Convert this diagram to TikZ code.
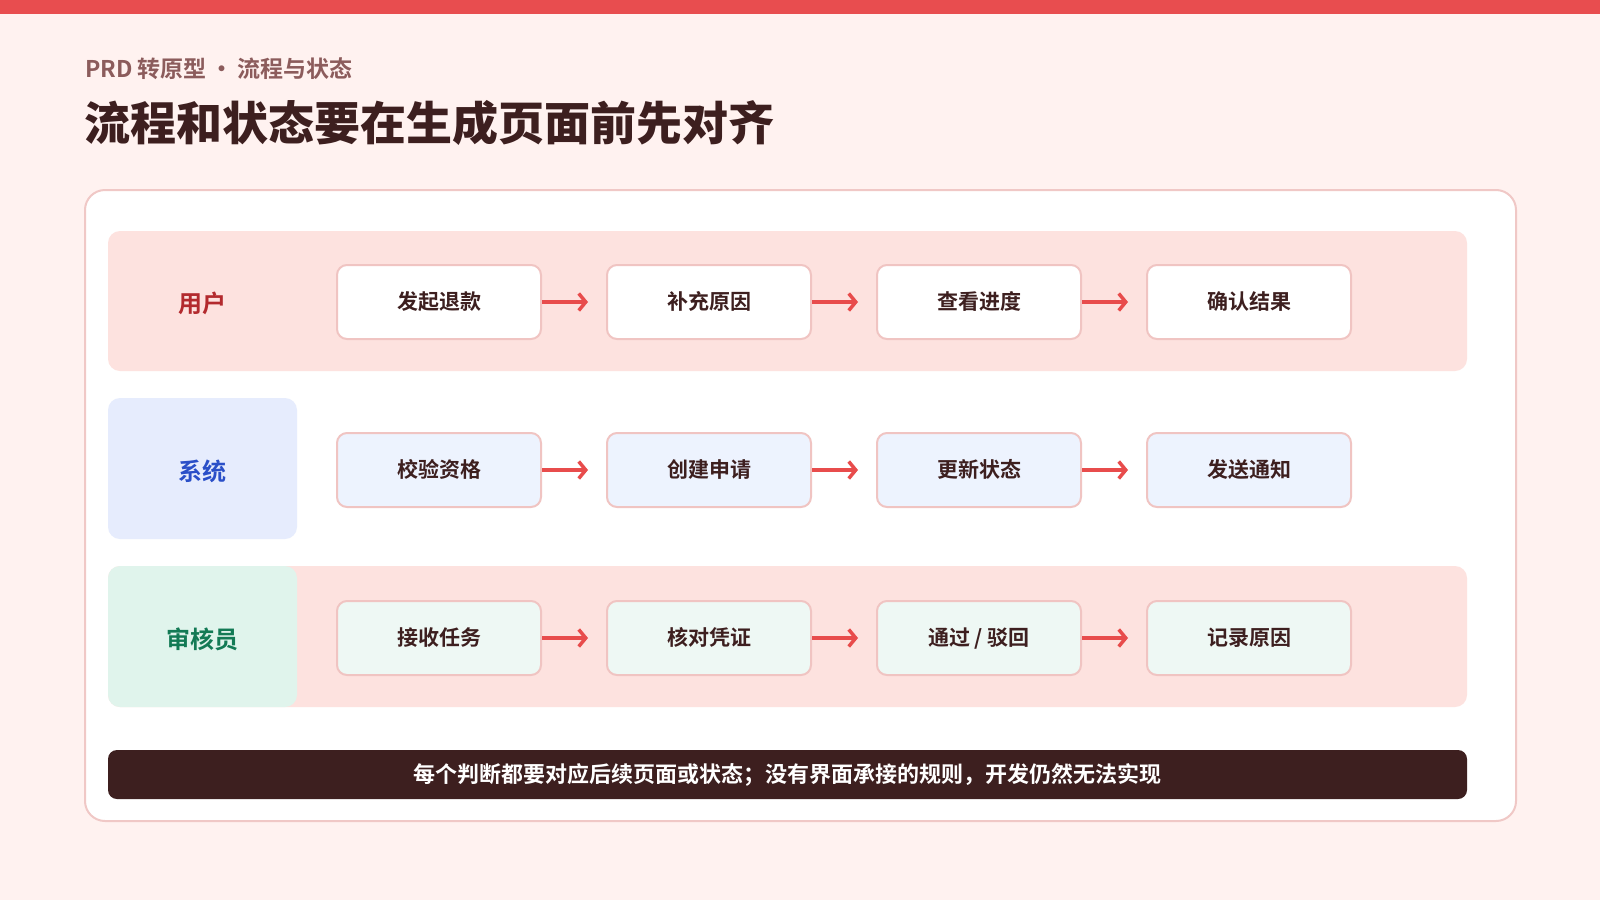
\documentclass[tikz,border=0pt]{standalone}
\usepackage{fontspec}
\setmainfont{Noto Sans CJK SC}[BoldFont={Noto Sans CJK SC Bold}]
\newfontfamily\heavyfont{Noto Sans CJK SC Black}
\usetikzlibrary{arrows.meta,positioning}
\definecolor{bg}{HTML}{FFF2F0}
\definecolor{topred}{HTML}{E84D4F}
\definecolor{subtitle}{HTML}{8C5C5C}
\definecolor{ink}{HTML}{3D1F1F}
\definecolor{cardline}{HTML}{F0C8C6}
\definecolor{lanepink}{HTML}{FDE2DF}
\definecolor{laneblue}{HTML}{E6ECFD}
\definecolor{lanegreen}{HTML}{E0F4EC}
\definecolor{stepblue}{HTML}{EDF3FE}
\definecolor{stepgreen}{HTML}{EEF8F4}
\definecolor{stepline}{HTML}{F0C4C2}
\definecolor{arrowred}{HTML}{E84C4C}
\definecolor{userred}{HTML}{B32A2E}
\definecolor{sysblue}{HTML}{2A4FC8}
\definecolor{revgreen}{HTML}{137A55}
\tikzset{
  stepbox/.style={draw=stepline, line width=2pt, rounded corners=10pt,
    minimum width=204pt, minimum height=74pt, inner sep=0pt,
    text height=1.68em, text depth=0.14em,
    text=ink, font=\bfseries\fontsize{21}{25}\selectfont},
  lanelabel/.style={font=\bfseries\fontsize{24}{28}\selectfont, inner sep=0pt},
  flow/.style={draw=arrowred, line width=3.5pt,
    -{Straight Barb[length=7pt,width=17pt]}, shorten >=18pt}
}
\begin{document}
\begin{tikzpicture}[x=1pt,y=-1pt]
\useasboundingbox (0,0) rectangle (1600,900);
\fill[bg] (0,0) rectangle (1600,900);
\fill[topred] (0,0) rectangle (1600,14);
\node[anchor=west, text=subtitle, font=\bfseries\fontsize{23}{27}\selectfont, inner sep=0pt] (sub) at (85,69) {PRD 转原型\hspace{4pt}•\hspace{4pt}流程与状态};
\node[anchor=west, text=ink, font=\heavyfont\fontsize{46}{52}\selectfont, inner sep=0pt] (title) at (84,123) {流程和状态要在生成页面前先对齐};
\draw[cardline, fill=white, line width=2pt, rounded corners=20pt] (85,190) rectangle (1516,821);
% lanes
\fill[lanepink, rounded corners=12pt] (108,231) rectangle (1467,371);
\fill[laneblue, rounded corners=12pt] (108,398) rectangle (297,539);
\fill[lanepink, rounded corners=12pt] (108,566) rectangle (1467,707);
\fill[lanegreen, rounded corners=12pt] (108,566) rectangle (297,707);
\node[lanelabel, text=userred] (l1) at (202,303) {用户};
\node[lanelabel, text=sysblue] (l2) at (202,471) {系统};
\node[lanelabel, text=revgreen] (l3) at (202,639) {审核员};
% row 1
\node[stepbox, fill=white] (a1) at (439,302) {发起退款};
\node[stepbox, fill=white] (a2) at (709,302) {补充原因};
\node[stepbox, fill=white] (a3) at (979,302) {查看进度};
\node[stepbox, fill=white] (a4) at (1249,302) {确认结果};
% row 2
\node[stepbox, fill=stepblue] (b1) at (439,470) {校验资格};
\node[stepbox, fill=stepblue] (b2) at (709,470) {创建申请};
\node[stepbox, fill=stepblue] (b3) at (979,470) {更新状态};
\node[stepbox, fill=stepblue] (b4) at (1249,470) {发送通知};
% row 3
\node[stepbox, fill=stepgreen] (c1) at (439,638) {接收任务};
\node[stepbox, fill=stepgreen] (c2) at (709,638) {核对凭证};
\node[stepbox, fill=stepgreen] (c3) at (979,638) {通过 / 驳回};
\node[stepbox, fill=stepgreen] (c4) at (1249,638) {记录原因};
\foreach \r in {a,b,c}{
  \draw[flow] (\r1.east) -- (\r2.west);
  \draw[flow] (\r2.east) -- (\r3.west);
  \draw[flow] (\r3.east) -- (\r4.west);
}
% bottom bar
\fill[ink, rounded corners=9pt] (108,750) rectangle (1467,799);
\node[text=white, font=\bfseries\fontsize{22}{26}\selectfont, inner sep=0pt, text height=1.66em, text depth=0.14em] (note) at (787.5,775) {每个判断都要对应后续页面或状态；没有界面承接的规则，开发仍然无法实现};
\end{tikzpicture}
\end{document}
